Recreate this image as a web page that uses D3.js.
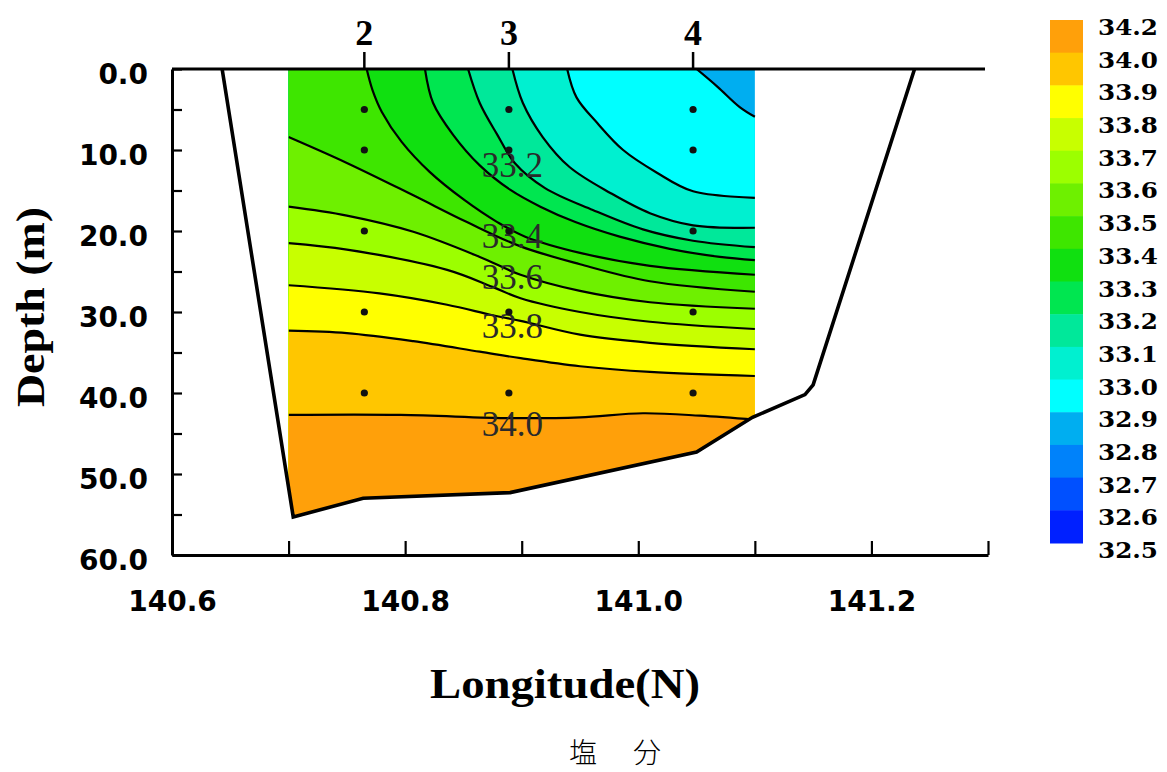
<!DOCTYPE html>
<html>
<head>
<meta charset="utf-8">
<script src="https://cdn.jsdelivr.net/npm/d3@7"></script>
<style>
  body { margin: 0; background: #fff; }
  svg { display: block; }
</style>
</head>
<body>
<div id="app"></div>
<script>
// colorbar (top to bottom) and band colours between consecutive values
const cbValues = [34.2, 34.0, 33.9, 33.8, 33.7, 33.6, 33.5, 33.4, 33.3, 33.2, 33.1, 33.0, 32.9, 32.8, 32.7, 32.6, 32.5]
const bandColors = ['#ffa00a', '#ffc600', '#ffff00', '#c8ff00', '#9cff00', '#6ef000', '#3ee600', '#10e010',
  '#00e650', '#00e89a', '#00f0d0', '#00ffff', '#00aef0', '#0082fa', '#0050ff', '#0020ff']

// contour lines: [longitude, depth]
const iso329 = [[141.050, 0], [141.068, 2.2], [141.087, 4.7], [141.100, 5.9]]
const iso330 = [[140.939, 0], [140.947, 3.5], [140.965, 6.7], [140.987, 10.0], [141.016, 12.8], [141.047, 15.1], [141.100, 15.9]]
const iso331 = [[140.892, 0], [140.901, 4.2], [140.918, 8.4], [140.941, 12.1], [140.976, 15.3], [141.010, 17.8], [141.047, 19.3], [141.100, 19.6]]
const iso332 = [[140.854, 0], [140.864, 4.2], [140.879, 8.1], [140.894, 11.6], [140.920, 14.7], [140.961, 17.4], [141.004, 19.8], [141.047, 21.2], [141.100, 22.0]]
const iso333 = [[140.817, 0], [140.824, 4.2], [140.841, 8.1], [140.864, 11.9], [140.890, 14.9], [140.916, 17.0], [140.946, 18.9], [140.984, 20.7], [141.027, 22.2], [141.070, 23.2], [141.100, 23.6]]
const iso334 = [[140.767, 0], [140.772, 2.6], [140.780, 5.3], [140.797, 9.0], [140.821, 12.7], [140.851, 16.2], [140.879, 18.9], [140.903, 20.7], [140.950, 22.7], [141.010, 24.3], [141.100, 25.4]]
const iso335 = [[140.700, 8.4], [140.750, 11.6], [140.807, 15.6], [140.853, 18.9], [140.899, 21.9], [140.950, 24.1], [141.010, 26.2], [141.100, 27.5]]
const iso336 = [[140.700, 17.0], [140.750, 18.1], [140.807, 20.1], [140.864, 23.2], [140.899, 25.4], [140.950, 27.4], [141.010, 28.8], [141.100, 29.6]]
const iso337 = [[140.700, 21.5], [140.750, 22.3], [140.836, 24.8], [140.875, 26.9], [140.899, 28.3], [140.950, 30.0], [141.010, 31.2], [141.100, 32.1]]
const iso338 = [[140.700, 26.7], [140.778, 27.7], [140.836, 29.1], [140.875, 30.4], [140.899, 31.1], [140.950, 32.8], [141.010, 33.8], [141.100, 34.6]]
const iso339 = [[140.700, 32.3], [140.750, 32.6], [140.807, 33.6], [140.864, 34.9], [140.899, 35.7], [140.950, 36.7], [141.010, 37.4], [141.100, 37.9]]
const iso340 = [[140.700, 42.7], [140.796, 42.7], [140.890, 43.1], [140.950, 43.0], [141.004, 42.5], [141.053, 42.8], [141.100, 43.3]]
const isoLevels = [32.9, 33.0, 33.1, 33.2, 33.3, 33.4, 33.5, 33.6, 33.7, 33.8, 33.9, 34.0]
const isoLines = [iso329, iso330, iso331, iso332, iso333, iso334, iso335, iso336, iso337, iso338, iso339, iso340]
const labeledLevels = [33.2, 33.4, 33.6, 33.8, 34.0]
const labelLon = 140.892

// gridded area and sea floor
const fieldLon = [140.7, 141.1]
const bottom = [[140.643, 0], [140.704, 55.3], [140.764, 53.0], [140.890, 52.3], [141.050, 47.3], [141.098, 43.0], [141.143, 40.2], [141.150, 39.0], [141.237, 0]]

// stations
const stationNames = ['2', '3', '4']
const stationLon = [140.765, 140.889, 141.047]
const sampleDepths = [5, 10, 20, 30, 40]

const xTicks = [140.6, 140.7, 140.8, 140.9, 141.0, 141.1, 141.2, 141.3]
const yTicks = [0, 5, 10, 15, 20, 25, 30, 35, 40, 45, 50, 55, 60]

const W = 1167, H = 772
const svg = d3.select('#app').append('svg').attr('width', W).attr('height', H)
svg.append('rect').attr('width', W).attr('height', H).attr('fill', '#fff')

const x = d3.scaleLinear().domain([140.6, 141.3]).range([172, 988])
const y = d3.scaleLinear().domain([0, 60]).range([69, 555])

// colour for a salinity value
const color = d3.scaleThreshold()
  .domain(cbValues.slice(1, -1).slice().reverse())
  .range(bandColors.slice().reverse())

const defs = svg.append('defs')
defs.append('clipPath').attr('id', 'rectClip').append('rect')
  .attr('x', x(fieldLon[0])).attr('y', y(0))
  .attr('width', x(fieldLon[1]) - x(fieldLon[0]) + 2).attr('height', y(60) - y(0))
defs.append('clipPath').attr('id', 'bottomClip').append('path')
  .attr('d', d3.line().x(d => x(d[0])).y(d => y(d[1]))(bottom) + 'Z')

const field = svg.append('g').attr('clip-path', 'url(#rectClip)')
  .append('g').attr('clip-path', 'url(#bottomClip)')

const line = d3.line().x(d => x(d[0])).y(d => y(d[1])).curve(d3.curveCatmullRom.alpha(0.5))

field.append('rect')
  .attr('x', x(fieldLon[0])).attr('y', y(0))
  .attr('width', x(fieldLon[1]) - x(fieldLon[0])).attr('height', y(60) - y(0))
  .attr('fill', color(isoLevels[0] - 0.05))

// region above each level, painted in ascending order
field.selectAll('path.band').data(isoLines).enter().append('path')
  .attr('class', 'band')
  .attr('d', (pts, i) => {
    let d = line(pts)
    d += `L${x(fieldLon[1])},${y(60) + 6}L${x(fieldLon[0]) - 6},${y(60) + 6}`
    if (pts[0][1] === 0) d += `L${x(fieldLon[0]) - 6},${y(0) - 6}`
    return d + 'Z'
  })
  .attr('fill', (pts, i) => color(isoLevels[i] + 0.05))

field.selectAll('path.iso').data(isoLines).enter().append('path')
  .attr('class', 'iso')
  .attr('d', line)
  .attr('fill', 'none')
  .attr('stroke', '#000')
  .attr('stroke-width', 2.2)

function depthAt(pts, lon) {
  for (let i = 1; i < pts.length; i++) {
    if (pts[i][0] >= lon) {
      const t = (lon - pts[i - 1][0]) / (pts[i][0] - pts[i - 1][0])
      return pts[i - 1][1] + t * (pts[i][1] - pts[i - 1][1])
    }
  }
  return pts[pts.length - 1][1]
}

svg.selectAll('text.clabel').data(labeledLevels).enter().append('text')
  .attr('class', 'clabel')
  .attr('x', x(labelLon))
  .attr('y', d => y(depthAt(isoLines[isoLevels.indexOf(d)], labelLon)) + 6)
  .attr('dy', '0.35em')
  .attr('text-anchor', 'middle')
  .attr('font-family', '"Liberation Serif", serif')
  .attr('font-size', 35)
  .attr('fill', '#2a2a2a')
  .text(d => d.toFixed(1))

// sample points
const samples = stationLon.flatMap(lon => sampleDepths.map(dep => [lon, dep]))
svg.selectAll('circle.sample').data(samples).enter().append('circle')
  .attr('cx', d => x(d[0])).attr('cy', d => y(d[1])).attr('r', 3.6).attr('fill', '#111')

// sea floor outline and surface line
svg.append('path')
  .attr('d', d3.line().x(d => x(d[0])).y(d => y(d[1]))(bottom))
  .attr('fill', 'none').attr('stroke', '#000').attr('stroke-width', 3.6).attr('stroke-linejoin', 'miter')
svg.append('line')
  .attr('x1', x(140.6)).attr('x2', x(141.3) - 3).attr('y1', y(0)).attr('y2', y(0))
  .attr('stroke', '#000').attr('stroke-width', 3.2)

// axes
const yAxis = d3.axisLeft(y).tickValues(yTicks).tickSize(-10).tickSizeOuter(0).tickPadding(24)
  .tickFormat(d => d % 10 === 0 ? d3.format('.1f')(d) : '')
const gy = svg.append('g').attr('transform', `translate(${x(140.6)},0)`).call(yAxis)
const xAxis = d3.axisBottom(x).tickValues(xTicks).tickSize(-14).tickSizeOuter(0).tickPadding(36)
  .tickFormat(d => Math.round(d * 10) % 2 === 0 ? d3.format('.1f')(d) : '')
const gx = svg.append('g').attr('transform', `translate(0,${y(60)})`).call(xAxis)
for (const g of [gx, gy]) {
  g.select('.domain').attr('stroke-width', 3)
  g.selectAll('.tick line').attr('stroke-width', 2.2)
  g.selectAll('.tick text')
    .attr('font-family', '"DejaVu Sans", sans-serif').attr('font-weight', 'bold')
    .attr('font-size', 28).attr('fill', '#000')
}
gy.selectAll('.tick text').attr('dy', '0.5em')

// station markers
svg.selectAll('line.st').data(stationLon).enter().append('line')
  .attr('x1', d => x(d)).attr('x2', d => x(d)).attr('y1', y(0) - 17).attr('y2', y(0))
  .attr('stroke', '#000').attr('stroke-width', 2.5)
svg.selectAll('text.st').data(stationNames).enter().append('text')
  .attr('x', (d, i) => x(stationLon[i])).attr('y', 45)
  .attr('text-anchor', 'middle')
  .attr('font-family', '"Liberation Serif", serif').attr('font-weight', 'bold').attr('font-size', 36)
  .text(d => d)

// titles
svg.append('text')
  .attr('x', 565).attr('y', 698).attr('text-anchor', 'middle')
  .attr('font-family', '"Liberation Serif", serif').attr('font-weight', 'bold').attr('font-size', 42)
  .attr('textLength', 270).attr('lengthAdjust', 'spacingAndGlyphs')
  .text('Longitude(N)')
svg.append('text')
  .attr('transform', 'translate(44,307) rotate(-90)').attr('text-anchor', 'middle')
  .attr('font-family', '"Liberation Serif", serif').attr('font-weight', 'bold').attr('font-size', 40)
  .attr('textLength', 200).attr('lengthAdjust', 'spacingAndGlyphs')
  .text('Depth (m)')
svg.append('text')
  .attr('x', 615).attr('y', 763).attr('text-anchor', 'middle')
  .attr('font-family', '"Noto Sans CJK JP", sans-serif').attr('font-size', 28).attr('font-weight', 300)
  .attr('word-spacing', 30)
  .text('塩 分')

// colour bar
const cb = d3.scaleLinear().domain([0, cbValues.length - 1]).range([20, 543])
svg.selectAll('rect.cb').data(bandColors).enter().append('rect')
  .attr('x', 1050).attr('width', 33)
  .attr('y', (d, i) => cb(i)).attr('height', (d, i) => cb(i + 1) - cb(i) + 0.5)
  .attr('fill', d => d)
svg.selectAll('text.cb').data(cbValues).enter().append('text')
  .attr('x', 1098).attr('y', (d, i) => cb(i) + 7).attr('dy', '0.35em')
  .attr('font-family', '"DejaVu Serif", serif').attr('font-weight', 'bold').attr('font-size', 23)
  .attr('textLength', 60).attr('lengthAdjust', 'spacingAndGlyphs')
  .text(d => d.toFixed(1))
</script>
</body>
</html>
